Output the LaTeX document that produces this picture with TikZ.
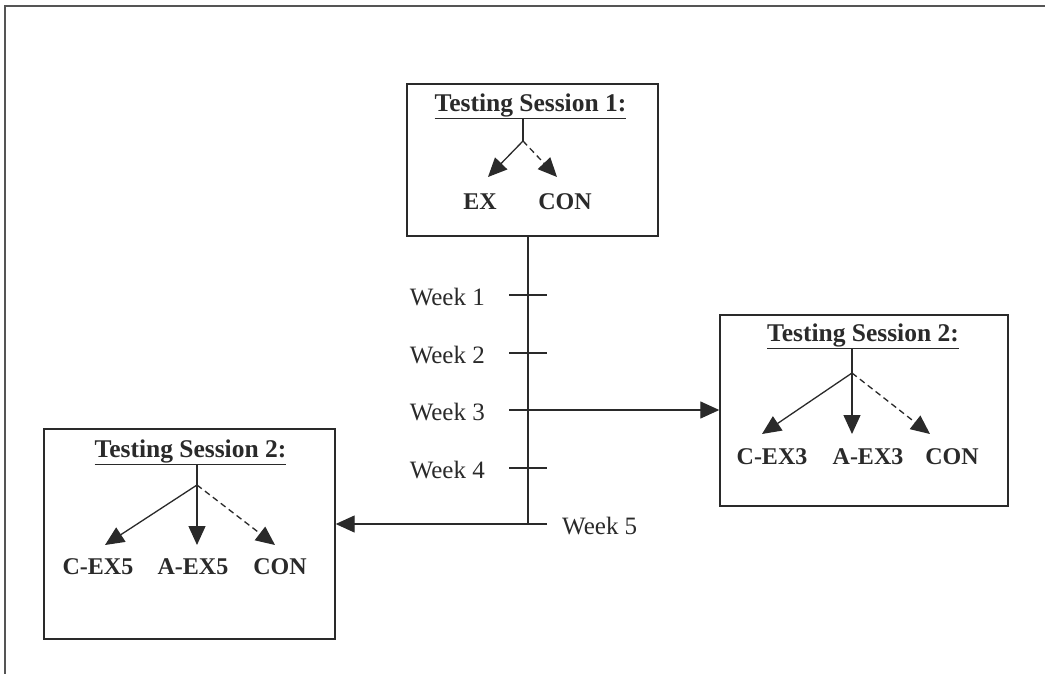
\documentclass[tikz,border=0pt]{standalone}
\usepackage{fontspec}
\setmainfont{Liberation Serif}
\usetikzlibrary{arrows.meta}
\definecolor{ink}{HTML}{2A2A2A}
\begin{document}
\begin{tikzpicture}[x=1pt,y=-1pt,
  every node/.style={text=ink},
  boxx/.style={draw=ink,line width=1.4pt,minimum width=#1},
  ttl/.style={font=\fontsize{25.5}{28}\selectfont\bfseries,inner sep=0pt},
  lbl/.style={font=\fontsize{24}{28}\selectfont\bfseries,inner sep=0pt},
  wk/.style={font=\fontsize{25}{28}\selectfont,inner sep=0pt},
  ln/.style={draw=ink,line width=1.3pt},
  arr/.style={ln,-{Triangle[length=19pt,width=17pt]}},
  dsh/.style={arr,dash pattern=on 6pt off 4pt}]
\useasboundingbox (0,0) rectangle (1045,673);
\fill[white] (0,0) rectangle (1045,673);
% outer frame (left and top edges visible)
\draw[draw=ink!80,line width=1.8pt] (5,690) -- (5,6) -- (1060,6);

% boxes
\node[boxx=251pt,minimum height=152pt] (tb) at (532.5,160) {};
\node[boxx=288pt,minimum height=191pt] (rb) at (864,410.5) {};
\node[boxx=291pt,minimum height=210pt] (lb) at (189.5,534) {};

% top box content
\node[ttl] (t1) at (530.5,106) {\underline{Testing Session 1:}};
\coordinate (b1) at (523,141);
\coordinate (x1) at (488,177);
\coordinate (x2) at (557,177);
\node[lbl] (ex) at (480,202) {EX};
\node[lbl] (con1) at (565,202) {CON};
\draw[ln] (t1.south -| b1) -- (b1);
\draw[arr] (b1) -- (x1);
\draw[dsh] (b1) -- (x2);

% right box content
\node[ttl] (t2) at (863,336) {\underline{Testing Session 2:}};
\coordinate (b2) at (852,373);
\coordinate (y1) at (762,434);
\coordinate (y2) at (852,434);
\coordinate (y3) at (930,434);
\node[lbl] (cex3) at (772,457) {C-EX3};
\node[lbl] (aex3) at (868,457) {A-EX3};
\node[lbl] (con2) at (952,457) {CON};
\draw[ln] (t2.south -| b2) -- (b2);
\draw[arr] (b2) -- (y1);
\draw[arr] (b2) -- (y2);
\draw[dsh] (b2) -- (y3);

% lower box content
\node[ttl] (t3) at (190.5,452) {\underline{Testing Session 2:}};
\coordinate (b3) at (197,485);
\coordinate (z1) at (105,545);
\coordinate (z2) at (197,545);
\coordinate (z3) at (275,545);
\node[lbl] (cex5) at (98,567) {C-EX5};
\node[lbl] (aex5) at (193,567) {A-EX5};
\node[lbl] (con3) at (280,567) {CON};
\draw[ln] (t3.south -| b3) -- (b3);
\draw[arr] (b3) -- (z1);
\draw[arr] (b3) -- (z2);
\draw[dsh] (b3) -- (z3);

% timeline
\coordinate (w1) at (528,295);
\coordinate (w2) at (528,353);
\coordinate (w3) at (528,410);
\coordinate (w4) at (528,468);
\coordinate (w5) at (528,524);
\draw[ln] (tb.south -| w5) -- (w5);
\foreach \w in {w1,w2,w4}{
  \draw[ln] ([xshift=-19pt]\w) -- ([xshift=19pt]\w);
}
\draw[arr] ([xshift=-19pt]w3) -- (rb.west |- w3);
\draw[arr] ([xshift=19pt]w5) -- (lb.east |- w5);

\node[wk,anchor=east] (l1) at (485,297) {Week 1};
\node[wk,anchor=east] (l2) at (485,355) {Week 2};
\node[wk,anchor=east] (l3) at (485,412) {Week 3};
\node[wk,anchor=east] (l4) at (485,470) {Week 4};
\node[wk,anchor=west] (l5) at (562,526) {Week 5};
\end{tikzpicture}
\end{document}
